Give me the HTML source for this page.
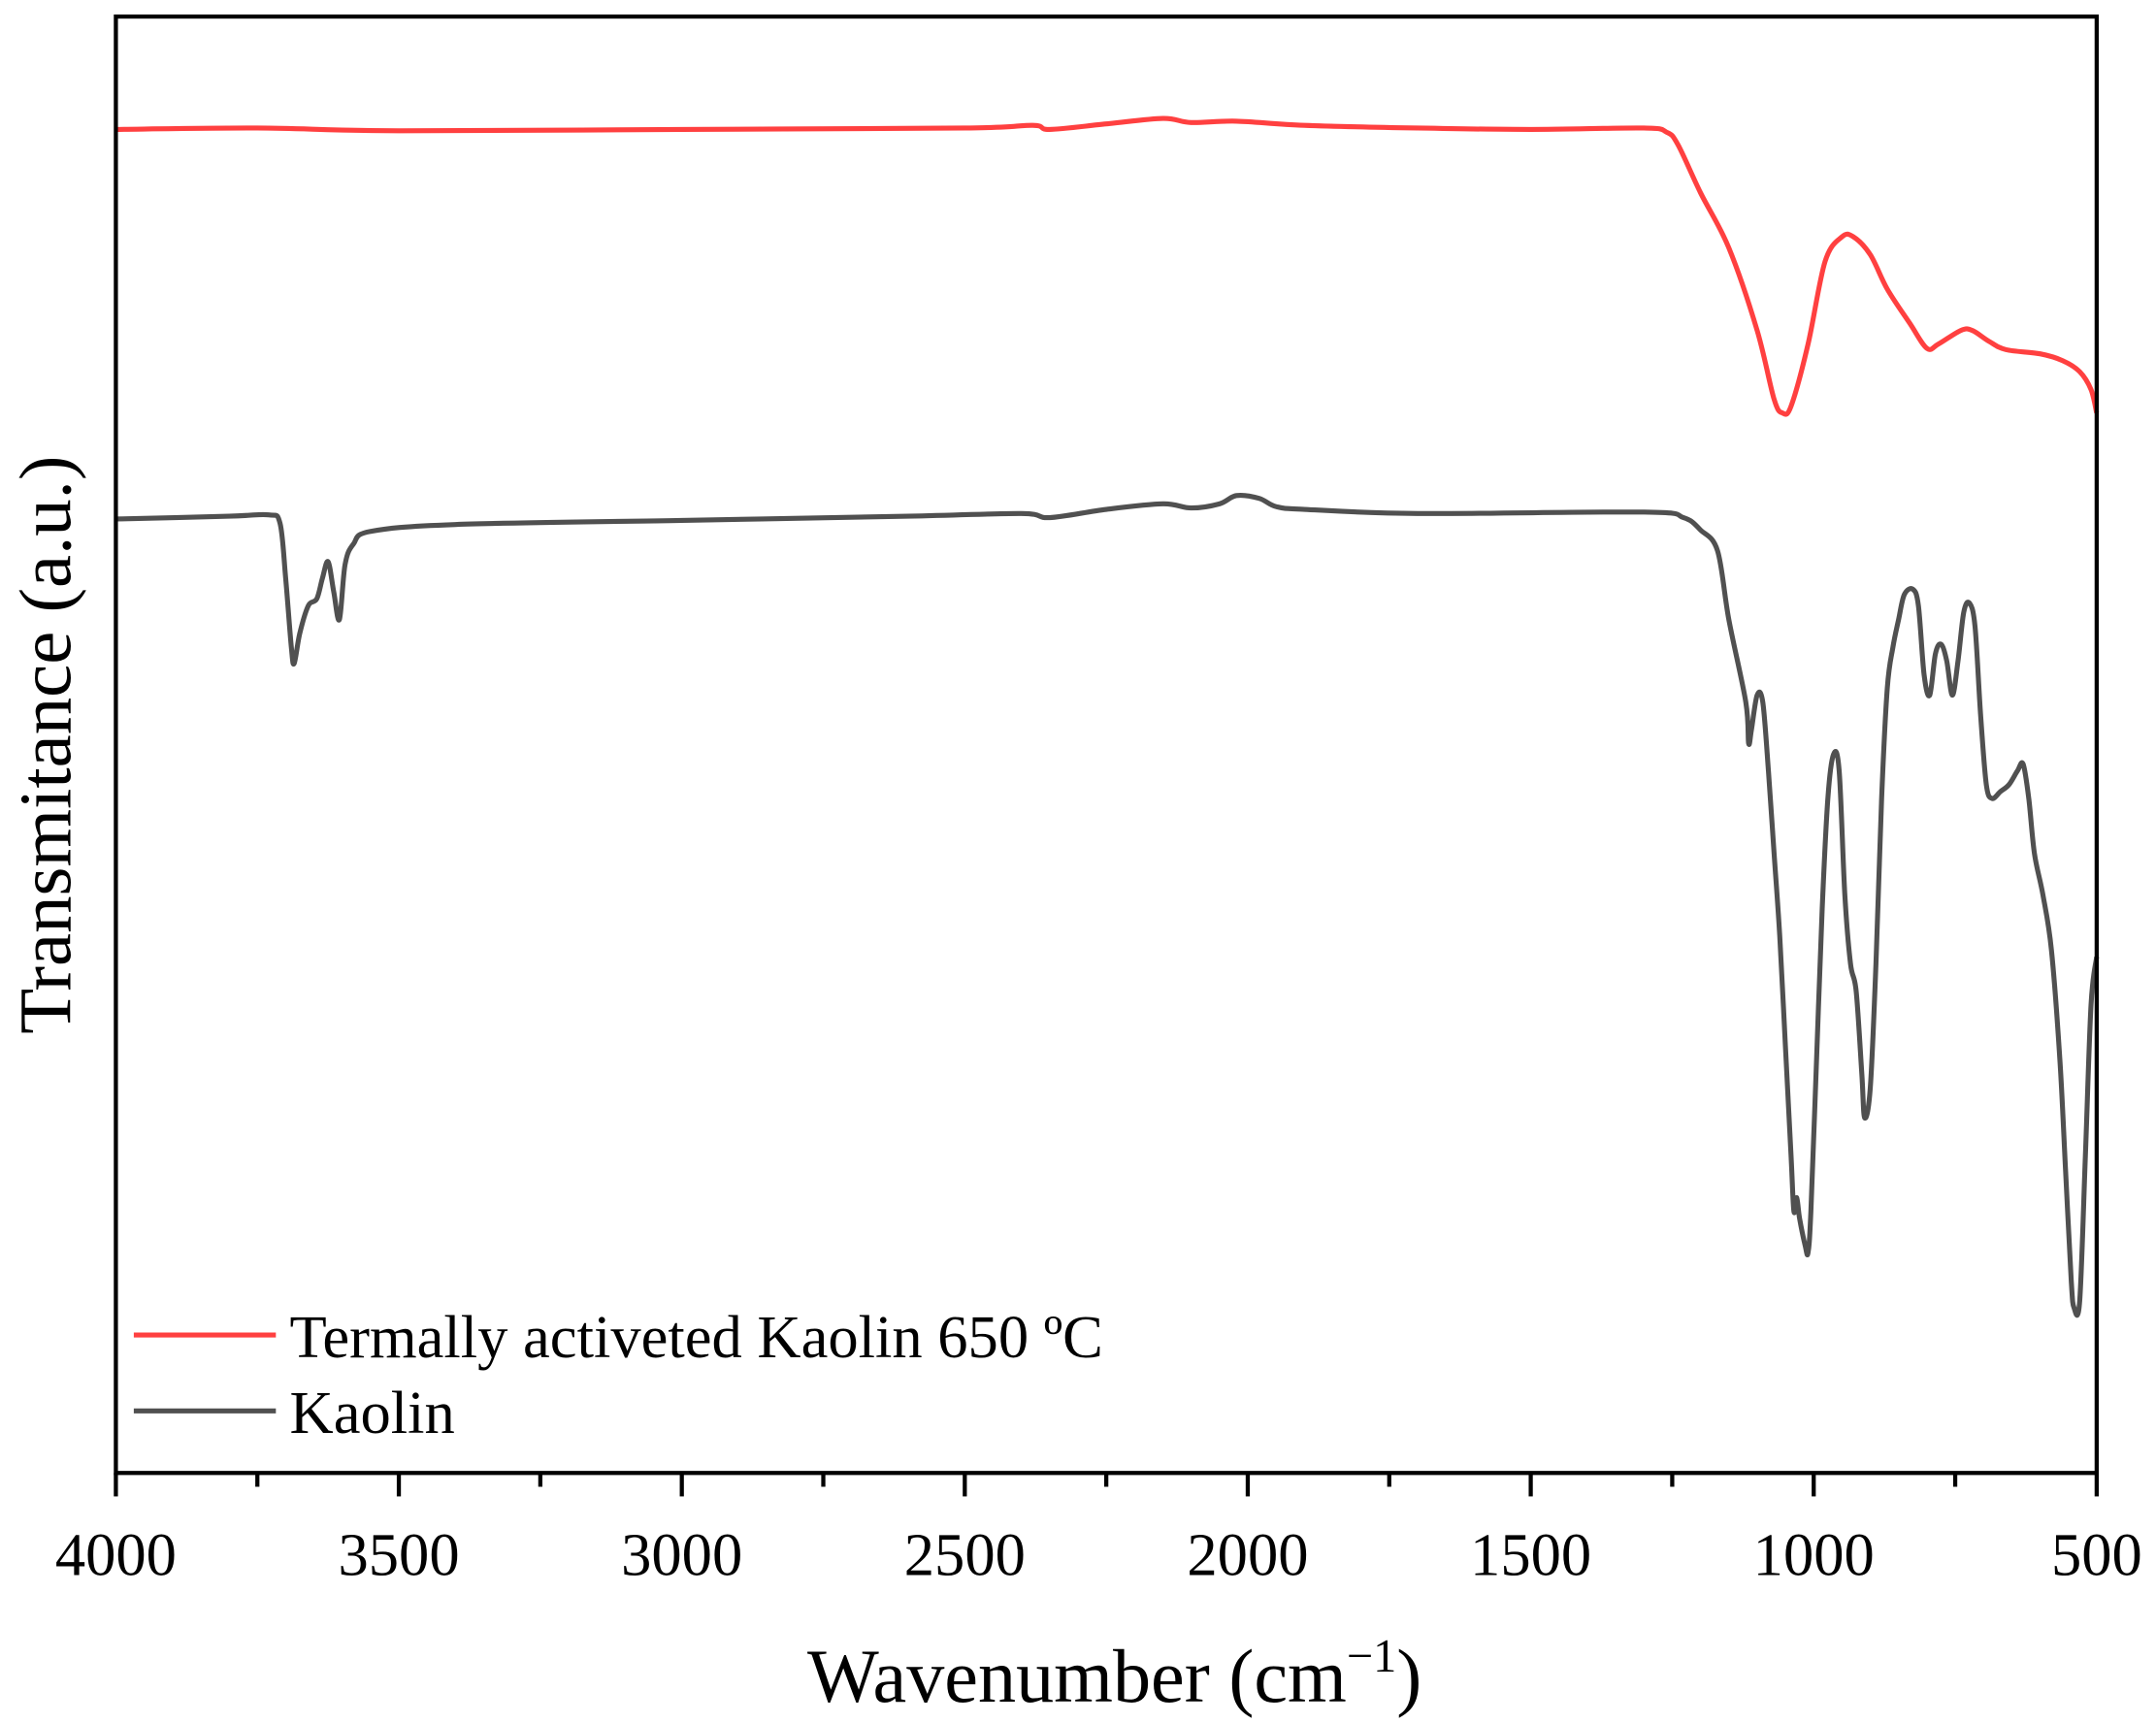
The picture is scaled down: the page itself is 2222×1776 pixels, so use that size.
<!DOCTYPE html>
<html><head><meta charset="utf-8"><style>
html,body{margin:0;padding:0;background:#fff;}
svg{display:block;}
text{font-family:"Liberation Serif",serif;fill:#000;}
</style></head><body>
<svg id="chart" width="2222" height="1776" viewBox="0 0 1563 1249.3" preserveAspectRatio="none" xmlns="http://www.w3.org/2000/svg">
<g id="plot"></g>
</svg>
<script>
const redX=[4000,3750,3500,3000,2500,2380,2350,2250,2150,2100,2020,1900,1700,1500,1300,1260,1240,1200,1150,1100,1070,1055,1040,1010,980,950,930,900,870,830,800,780,740,720,690,660,600,560,530,510,500];
const redY=[976,977,975,976,977,979,976,980,984,981,982,979,977,976,977,974,965,930,890,830,780,770,775,820,880,898,898,885,860,835,817,820,830,830,822,816,813,808,800,787,770];
const blackX=[4000,3800,3730,3710,3700,3690,3685,3675,3660,3645,3635,3625,3615,3605,3595,3580,3550,3400,3000,2600,2400,2350,2250,2150,2100,2050,2020,1980,1950,1900,1700,1300,1230,1200,1170,1150,1120,1115,1110,1100,1090,1080,1070,1060,1050,1040,1035,1030,1025,1015,1010,1005,995,985,975,965,955,945,935,925,915,910,900,890,880,870,860,850,840,825,815,805,795,785,775,765,755,745,735,725,715,705,695,685,670,655,640,630,620,610,595,580,565,555,545,540,530,520,510,500];
const blackY=[693,695,696,690,650,600,588,610,630,635,650,662,640,620,660,675,684,689,692,695,697,694,700,704,701,704,710,708,702,700,697,698,694,685,670,620,560,530,540,565,560,510,450,390,310,230,190,200,185,165,160,190,300,410,490,522,510,420,370,350,290,258,280,370,490,570,600,620,638,642,630,580,565,595,602,590,565,590,625,632,615,550,500,490,495,500,510,515,490,450,420,380,300,220,140,120,125,230,340,375];
const xTicks=[4000,3500,3000,2500,2000,1500,1000,500];
const xTickLabels=["4000","3500","3000","2500","2000","1500","1000","500"];
const xMinor=[3750,3250,2750,2250,1750,1250,750];

const L=84,R=1520,T=12,B=1068;
function xs(v){return L+(4000-v)/3500*(R-L);}
function ys(v){return B-v/1058*(B-T);}
const NS="http://www.w3.org/2000/svg";
const g=document.getElementById('plot');
function mk(tag,attrs){const e=document.createElementNS(NS,tag);for(const k in attrs)e.setAttribute(k,attrs[k]);g.appendChild(e);return e;}

function series(xa,ya,color,name){
  const pts=xa.map((v,i)=>[xs(v),ys(ya[i])]);
  let d='M'+pts[0][0].toFixed(2)+' '+pts[0][1].toFixed(2);
  for(let i=0;i<pts.length-1;i++){
    const p0=pts[Math.max(0,i-1)],p1=pts[i],p2=pts[i+1],p3=pts[Math.min(pts.length-1,i+2)];
    const c1x=p1[0]+(p2[0]-p0[0])/6,c1y=p1[1]+(p2[1]-p0[1])/6;
    const c2x=p2[0]-(p3[0]-p1[0])/6,c2y=p2[1]-(p3[1]-p1[1])/6;
    d+='C'+c1x.toFixed(2)+' '+c1y.toFixed(2)+' '+c2x.toFixed(2)+' '+c2y.toFixed(2)+' '+p2[0].toFixed(2)+' '+p2[1].toFixed(2);
  }
  const p=mk('path',{d:d,fill:'none',stroke:color,'stroke-width':3.6,'stroke-linejoin':'round'});
  
  
}
series(redX,redY,'#ff4040','series-activated-kaolin');
series(blackX,blackY,'#505050','series-kaolin');

const frame=mk('rect',{x:L,y:T,width:R-L,height:B-T,fill:'none',stroke:'#000','stroke-width':3});



xTicks.forEach((v,i)=>{
  const t=mk('line',{x1:xs(v),x2:xs(v),y1:B,y2:B+17,stroke:'#000','stroke-width':3});
  
  
  const lb=mk('text',{x:xs(v),y:1142,'text-anchor':'middle','font-size':44});
  lb.textContent=xTickLabels[i];
  
  
});
xMinor.forEach(v=>{
  const t=mk('line',{x1:xs(v),x2:xs(v),y1:B,y2:B+10,stroke:'#000','stroke-width':3});
  
  
});

const xt=mk('text',{x:808,y:1234,'text-anchor':'middle','font-size':55});
xt.innerHTML='Wavenumber (cm<tspan dy="-22" font-size="34">−1</tspan><tspan dy="22">)</tspan>';



const yt=mk('text',{x:0,y:0,'text-anchor':'middle','font-size':54,transform:'translate(51,540) rotate(-90)'});
yt.textContent='Transmitance (a.u.)';



const l1=mk('line',{x1:97,x2:200,y1:968,y2:968,stroke:'#ff4040','stroke-width':3.6});


const t1=mk('text',{x:210,y:984,'font-size':44});
t1.textContent='Termally activeted Kaolin 650 ºC';


const l2=mk('line',{x1:97,x2:200,y1:1023,y2:1023,stroke:'#505050','stroke-width':3.6});


const t2=mk('text',{x:210,y:1039,'font-size':44});
t2.textContent='Kaolin';


</script>
</body></html>
